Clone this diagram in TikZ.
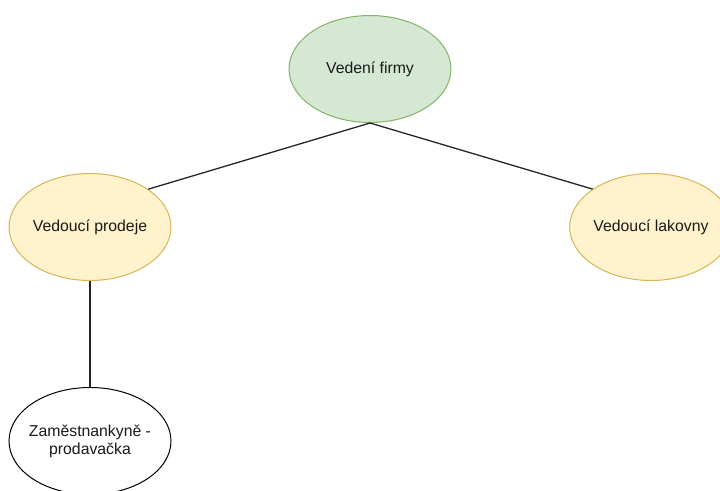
\documentclass[tikz,border=0pt]{standalone}
\usepackage{fontspec}
\setmainfont{Liberation Sans}
\usetikzlibrary{shapes.geometric}
\definecolor{gfill}{HTML}{D5E8D4}
\definecolor{gline}{HTML}{82B366}
\definecolor{yfill}{HTML}{FFF2CC}
\definecolor{yline}{HTML}{D6B656}
\definecolor{txt}{HTML}{1A1A1A}
\begin{document}
\begin{tikzpicture}[x=1pt,y=1pt,
  lbl/.style={text=txt, font=\fontsize{15.8}{18}\selectfont, align=center},
  oval/.style={ellipse, inner sep=0pt, minimum width=162pt, minimum height=107pt,
    line width=1pt, lbl},
  greenoval/.style={oval, draw=gline, fill=gfill},
  yellowoval/.style={oval, draw=yline, fill=yfill},
  plainoval/.style={oval, draw=black, fill=white},
  link/.style={draw=black!85, line width=1.3pt}]
\useasboundingbox (0,0) rectangle (720,-490);
\node[greenoval] (top) at (370,-69) {Vedení firmy};
\node[yellowoval] (left) at (90,-227) {Vedoucí prodeje};
\node[yellowoval] (right) at (651,-227) {Vedoucí lakovny};
\node[plainoval] (bottom) at (90,-441) {};
\node[lbl] (bottomtext) at (bottom.center) {Zaměstnankyně -\\prodavačka};
\draw[link] (top.south) -- (left.33);
\draw[link] (top.south) -- (right.147);
\draw[link] (left.south) -- (bottom.north);
\end{tikzpicture}
\end{document}
